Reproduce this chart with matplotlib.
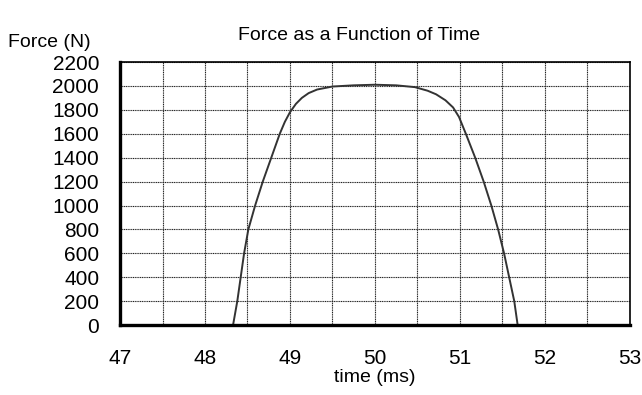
import numpy as np
import matplotlib.pyplot as plt
from matplotlib.ticker import MultipleLocator

plt.rcParams['font.family'] = ['Liberation Sans', 'DejaVu Sans']

# force pulse
time_ms = [48.33, 48.38, 48.42, 48.46, 48.51, 48.59, 48.68, 48.78, 48.88, 48.94,
           49.0, 49.07, 49.14, 49.22, 49.32, 49.5, 49.75, 50.0, 50.25, 50.47,
           50.62, 50.72, 50.83, 50.92, 50.99, 51.07, 51.18, 51.28, 51.37, 51.45,
           51.52, 51.58, 51.64, 51.68]
force_n = [0, 200, 400, 600, 800, 1000, 1200, 1400, 1600, 1700,
           1780, 1850, 1900, 1940, 1970, 1995, 2005, 2010, 2005, 1990,
           1960, 1930, 1880, 1820, 1740, 1600, 1400, 1200, 1000, 800,
           600, 400, 200, 0]

x_ticks = [47, 48, 49, 50, 51, 52, 53]
y_ticks = [0, 200, 400, 600, 800, 1000, 1200, 1400, 1600, 1800, 2000, 2200]

fig = plt.figure(figsize=(6.42, 3.95), dpi=100)
ax = fig.add_axes([0.187, 0.177, 0.794, 0.666])

ax.plot(time_ms, force_n, color='#333333', lw=1.4)

ax.set_xlim(47, 53)
ax.set_ylim(0, 2200)
ax.set_xticks(x_ticks)
ax.set_yticks(y_ticks)
ax.xaxis.set_minor_locator(MultipleLocator(0.5))
ax.grid(True, which='both', color='#222222', lw=0.8, ls=(0, (1, 0.6)))
ax.tick_params(which='both', length=0)
ax.tick_params(axis='y', pad=15, labelsize=15)
ax.tick_params(axis='x', pad=17, labelsize=15)

for side in ['left', 'bottom']:
    ax.spines[side].set_linewidth(2.4)
for side in ['top', 'right']:
    ax.spines[side].set_linewidth(1.2)

ax.set_xlabel('time (ms)', fontsize=14, labelpad=1)
fig.text(0.56, 0.91, 'Force as a Function of Time', fontsize=14, ha='center', va='center')
fig.text(0.012, 0.893, 'Force (N)', fontsize=14, ha='left', va='center')

fig.savefig('out.png', dpi=100)
